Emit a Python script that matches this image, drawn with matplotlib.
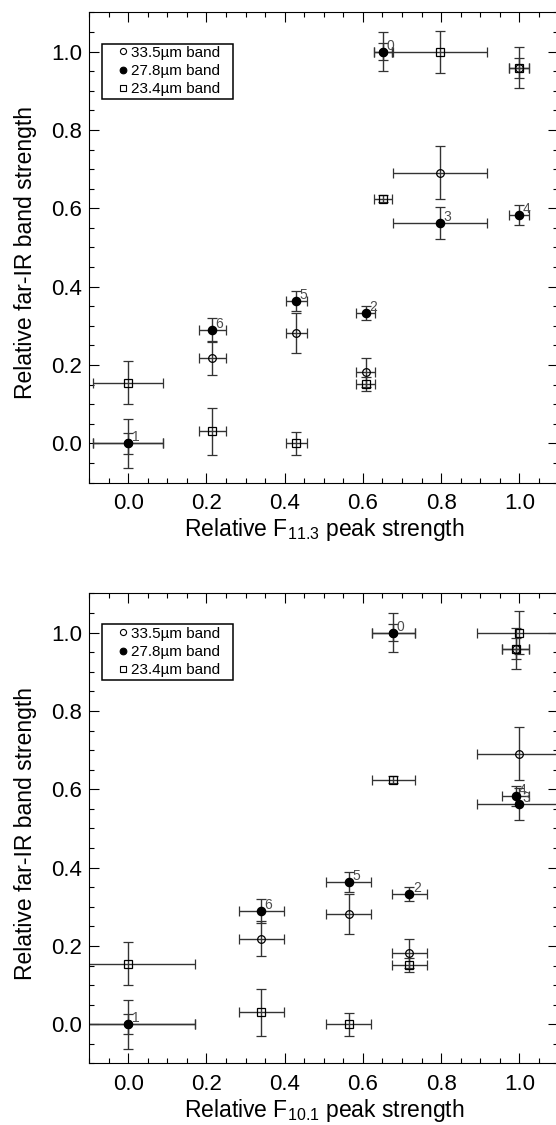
import matplotlib
matplotlib.use("Agg")
import matplotlib.pyplot as plt
from matplotlib.lines import Line2D
from matplotlib.ticker import MultipleLocator

plt.rcParams['font.family'] = ['Liberation Sans', 'DejaVu Sans']
plt.rcParams['mathtext.default'] = 'regular'

# source ids, written next to the 27.8um point
sources = ['0', '1', '2', '3', '4', '5', '6']

# relative PAH peak strengths (x axes)
x_f113 = [0.651, 0.0, 0.607, 0.797, 1.0, 0.430, 0.215]
xerr_f113 = [0.0235, 0.089, 0.0235, 0.121, 0.026, 0.027, 0.034]
x_f101 = [0.678, 0.0, 0.719, 1.0, 0.991, 0.564, 0.340]
xerr_f101 = [0.0555, 0.170, 0.0456, 0.107, 0.034, 0.0575, 0.0575]

# relative far-IR band strengths
y_335 = [1.0, 0.0, 0.181, 0.691, 0.959, 0.281, 0.2185]
yerr_335 = [0.021, 0.026, 0.0375, 0.067, 0.053, 0.051, 0.044]
y_278 = [1.0, 0.0, 0.333, 0.562, 0.583, 0.363, 0.289]
yerr_278 = [0.049, 0.063, 0.018, 0.041, 0.025, 0.025, 0.030]
y_234 = [0.624, 0.155, 0.152, 1.0, 0.959, 0.0, 0.031]
yerr_234 = [0.009, 0.054, 0.018, 0.054, 0.026, 0.030, 0.060]

# label, values, errors, marker, face colour, marker size
bands = [
    ("33.5\u00b5m band", y_335, yerr_335, 'o', 'none', 5.5),
    ("27.8\u00b5m band", y_278, yerr_278, 'o', 'black', 6.0),
    ("23.4\u00b5m band", y_234, yerr_234, 's', 'none', 5.3),
]

ERR_COLOR = '0.2'


def draw_panel(ax, x, xerr, xlabel):
    handles = []
    for label, y, yerr, marker, face, ms in bands:
        ax.errorbar(x, y, xerr=xerr, yerr=yerr, fmt=marker, ms=ms,
                    mfc=face, mec='black', mew=0.9,
                    ecolor=ERR_COLOR, elinewidth=1.0, capsize=3.5,
                    capthick=1.0)
        handles.append(Line2D([], [], ls='none', marker=marker, ms=ms * 0.8,
                              mfc=face, mec='black', mew=0.8, label=label))

    for name, xi, yi in zip(sources, x, y_278):
        ax.annotate(name, (xi, yi), xytext=(2.4, 1.5), textcoords='offset points',
                    ha='left', va='baseline', fontsize=10, color='0.3')

    ax.set_xlim(-0.1, 1.1)
    ax.set_ylim(-0.1, 1.1)
    ax.xaxis.set_major_locator(MultipleLocator(0.2))
    ax.xaxis.set_minor_locator(MultipleLocator(0.05))
    ax.yaxis.set_major_locator(MultipleLocator(0.2))
    ax.yaxis.set_minor_locator(MultipleLocator(0.05))
    ax.tick_params(which='both', direction='in', top=True, right=True, width=0.8)
    ax.tick_params(which='major', length=7, labelsize=16)
    ax.tick_params(axis='x', which='major', pad=7.5)
    ax.tick_params(axis='y', which='major', pad=5)
    ax.tick_params(which='minor', length=3.5)
    for sp in ax.spines.values():
        sp.set_linewidth(0.8)

    ax.set_xlabel(xlabel, fontsize=16.5)
    ax.set_ylabel("Relative far-IR band strength", fontsize=16.5)
    ax.xaxis.set_label_coords(0.5, -0.071)
    ax.yaxis.set_label_coords(-0.111, 0.49)

    leg = ax.legend(handles=handles, loc='upper left',
                    bbox_to_anchor=(0.0273, 0.0, 0.279, 0.934),
                    mode='expand', borderaxespad=0, fontsize=11,
                    handlelength=2.4, handletextpad=-0.65, borderpad=0.15,
                    labelspacing=0.28, fancybox=False, framealpha=1,
                    edgecolor='black')
    leg.get_frame().set_linewidth(1.1)


fig = plt.figure(figsize=(5.56, 11.25), dpi=100)
ax1 = fig.add_axes([0.1604, 0.5711, 0.8439, 0.4178])
ax2 = fig.add_axes([0.1604, 0.0547, 0.8439, 0.4178])

draw_panel(ax1, x_f113, xerr_f113, "Relative F$_{11.3}$ peak strength")
draw_panel(ax2, x_f101, xerr_f101, "Relative F$_{10.1}$ peak strength")

fig.savefig("out.png", dpi=100)
